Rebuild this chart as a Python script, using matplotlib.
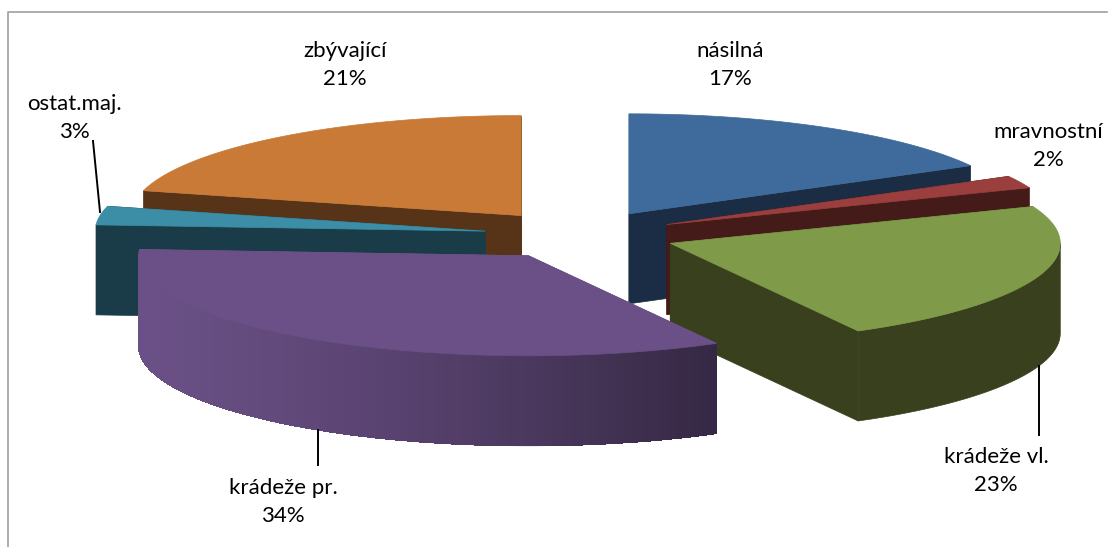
import numpy as np
import matplotlib.pyplot as plt
from matplotlib.patches import Polygon

# hodnoty z grafu
labels = ['násilná', 'mravnostní', 'krádeže vl.', 'krádeže pr.', 'ostat.maj.', 'zbývající']
values = [17, 2, 23, 34, 3, 21]

top_colors = ['#3f6a9c', '#9a3f3d', '#7f9a48', '#6a5086', '#3c8ea6', '#c97a36']
wall_colors = ['#1a2d45', '#451b19', '#38401e', '#6a5086', '#1a3c48', '#573318']
rim_end_colors = ['#1a2d45', '#451b19', '#38401e', '#352843', '#1a3c48', '#573318']

# poloha popisku a vodici cary v pixelech
label_pos = [(730, 65), (1048, 146), (996, 471), (283, 502), (74, 118), (345, 65)]
leaders = [None, None, ((1039, 366), (1039, 435)), ((318, 430), (318, 465)),
           ((93, 141), (100, 212)), None]

# pseudo 3D geometrie
cx, cy = 580, 235
rx, ry = 390, 100
depth = 90
explode = 0.246
draw_order = [5, 4, 0, 1, 2, 3]


def hex_rgb(c):
    return np.array([int(c[i:i + 2], 16) / 255 for i in (1, 3, 5)])


def point(ax0, ay0, deg):
    a = np.radians(deg)
    return ax0 + rx * np.sin(a), ay0 - ry * np.cos(a)


fig = plt.figure(figsize=(11.08, 5.47), dpi=100)
ax = fig.add_axes([0, 0, 1, 1])
ax.set_xlim(0, 1108)
ax.set_ylim(547, 0)
ax.axis('off')

# ramecek grafu
ax.plot([7.5, 7.5, 1107], [547, 11.5, 11.5], color='#a0a0a0', lw=1.2, zorder=0)

edges = np.cumsum([0] + values) / sum(values) * 360
z = 1
for i in draw_order:
    start, end = edges[i], edges[i + 1]
    mid = (start + end) / 2
    ax0, ay0 = point(cx, cy, mid)
    ax0 = cx + (ax0 - cx) * explode
    ay0 = cy + (ay0 - cy) * explode

    # rezy vysece
    for deg in (start, end):
        px, py = point(ax0, ay0, deg)
        ax.add_patch(Polygon([(ax0, ay0), (px, py), (px, py + depth), (ax0, ay0 + depth)],
                             fc=wall_colors[i], ec=wall_colors[i], lw=0.5, zorder=z))
    z += 1

    # vnejsi plast, jen predni cast
    r0, r1 = max(start, 90), min(end, 270)
    if r0 < r1:
        steps = np.linspace(r0, r1, 90)
        upper = [point(ax0, ay0, d) for d in steps]
        lower = [(x, y + depth) for x, y in upper[::-1]]
        ax.add_patch(Polygon(upper + lower, fc=wall_colors[i], ec=wall_colors[i], lw=0.5, zorder=z))
        if wall_colors[i] != rim_end_colors[i]:
            # prechod barvy na plasti (fialova vysec)
            c0, c1 = hex_rgb(wall_colors[i]), hex_rgb(rim_end_colors[i])
            xs = [p[0] for p in upper]
            for a, b in zip(steps[:-1], steps[1:]):
                xa, ya = point(ax0, ay0, a)
                xb, yb = point(ax0, ay0, b)
                t = ((xa + xb) / 2 - min(xs)) / (max(xs) - min(xs))
                col = c0 + (c1 - c0) * t ** 1.3
                ax.add_patch(Polygon([(xa, ya), (xb, yb), (xb, yb + depth), (xa, ya + depth)],
                                     fc=col, ec=col, lw=0.3, antialiased=False, zorder=z))
    z += 1

    # horni plocha
    arc = np.linspace(start, end, 120)
    pts = [(ax0, ay0)] + [point(ax0, ay0, d) for d in arc]
    ax.add_patch(Polygon(pts, fc=top_colors[i], ec=top_colors[i], lw=0.5, zorder=z))
    z += 1

for name, val, pos, lead in zip(labels, values, label_pos, leaders):
    ax.text(pos[0], pos[1], f'{name}\n{val}%', ha='center', va='center', fontsize=16,
            family='Lato', color='black', linespacing=1.55, zorder=50)
    if lead:
        ax.plot([lead[0][0], lead[1][0]], [lead[0][1], lead[1][1]], color='black', lw=1.4, zorder=50)

plt.savefig('out.png', dpi=100)
